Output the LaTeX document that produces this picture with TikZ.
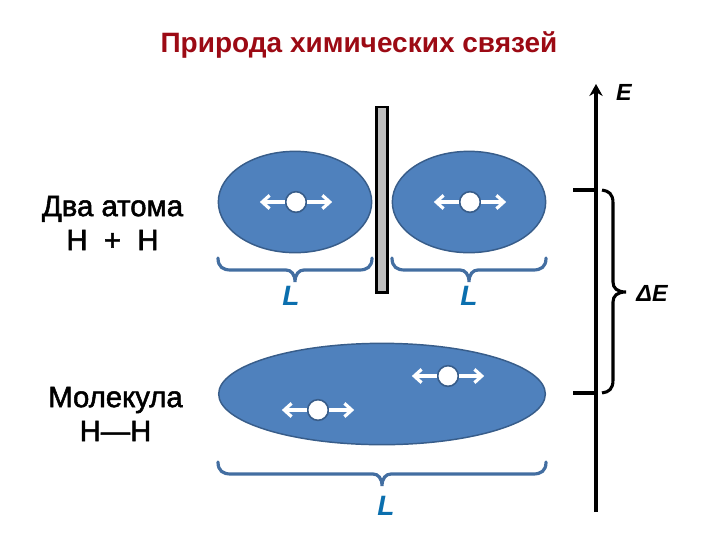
\documentclass[tikz,border=0pt]{standalone}
\usepackage{fontspec}
\setmainfont{Liberation Sans}
\newfontfamily\capfont[FakeBold=1.8]{Liberation Sans}
\usetikzlibrary{shapes.geometric,arrows.meta}
\definecolor{cloudblue}{HTML}{4F81BD}
\definecolor{clouddark}{HTML}{385D8A}
\definecolor{letterblue}{HTML}{0B6FAE}
\definecolor{titlered}{HTML}{9C0A14}
\newcommand{\spanbrace}[3]{% left x, right x, top y
    \draw [bracket] (#1, #3) .. controls (#1, #3 + 9) and (#1 + 5, #3 + 12) .. (#1 + 13, #3 + 12)
        -- ({(#1 + #2) / 2 - 9}, #3 + 12) .. controls ({(#1 + #2) / 2 - 4}, #3 + 12) and ({(#1 + #2) / 2}, #3 + 16) .. ({(#1 + #2) / 2}, #3 + 24)
        .. controls ({(#1 + #2) / 2}, #3 + 16) and ({(#1 + #2) / 2 + 4}, #3 + 12) .. ({(#1 + #2) / 2 + 9}, #3 + 12)
        -- (#2 - 13, #3 + 12) .. controls (#2 - 5, #3 + 12) and (#2, #3 + 9) .. (#2, #3);
}
\tikzset{
    cloudnode/.style = {ellipse, draw = clouddark, line width = 1.1pt, fill = cloudblue, inner sep = 0pt},
    electron/.style = {circle, draw = clouddark, line width = 1.2pt, fill = white, minimum size = 15.5pt, inner sep = 0pt},
    moveline/.style = {white, line width = 2.4pt, -{Straight Barb[length = 5.5pt, width = 10pt, line width = 2.4pt]}},
    bracket/.style = {draw = cloudblue!85!black, line width = 2.4pt, line cap = round},
    energybrace/.style = {draw = black, line width = 2.3pt},
    caption/.style = {font = \fontsize{22pt}{25.5pt}\capfont, align = center, inner sep = 0pt},
    lengthmark/.style = {text = letterblue, font = \fontsize{21pt}{21pt}\selectfont\bfseries\itshape, inner sep = 0pt},
    energymark/.style = {inner sep = 0pt, font = \fontsize{17.5pt}{17.5pt}\selectfont\bfseries\itshape}
}
\begin{document}
\begin{tikzpicture}[x = 0.75pt, y = -0.75pt]
        \useasboundingbox (0, 0) rectangle (720, 540);
        % title and labels
        \node [inner sep = 0pt, font = \fontsize{21pt}{24pt}\selectfont\bfseries, text = titlered] (title) at (359, 45) {Природа химических связей};
        \node [caption] (atoms) at (112.5, 223) {Два атома\\Н\ \ +\ \ Н};
        \node [caption] (molecule) at (115.5, 414) {Молекула\\Н—Н};
        % barrier
        \node [draw, line width = 2pt, fill = lightgray, minimum width = 8pt, minimum height = 139pt, inner sep = 0pt] (wall) at (382, 199.5) {};
        % clouds
        \node [cloudnode, minimum width = 115pt, minimum height = 76pt] (left) at (295, 202) {};
        \node [cloudnode, minimum width = 115pt, minimum height = 76pt] (right) at (469, 202) {};
        \node [cloudnode, minimum width = 245pt, minimum height = 76pt] (mol) at (382, 394) {};
        % electrons
        \node [electron] (eA) at (296, 202) {};
        \node [electron] (eB) at (470, 202) {};
        \node [electron] (eC) at (448, 376) {};
        \node [electron] (eD) at (318, 410) {};
        \foreach \e in {eA, eB, eC, eD} {
            \draw [moveline] (\e.west) -- ++(-25, 0);
            \draw [moveline] (\e.east) -- ++(25, 0);
        }
        % braces
        \spanbrace{218}{372}{258}
        \spanbrace{392}{546}{258}
        \spanbrace{218}{546}{462}
        \node [lengthmark] (la) at (291, 296) {L};
        \node [lengthmark] (lb) at (469, 296) {L};
        \node [lengthmark] (lc) at (386, 506) {L};
        % energy axis
        \coordinate (axisbottom) at (596, 512);
        \coordinate (axistop) at (596, 84);
        \coordinate (upper) at (596, 190);
        \coordinate (lower) at (596, 393);
        \coordinate (upperend) at (573, 190);
        \coordinate (lowerend) at (573, 393);
        \draw [line width = 2.3pt, -{Stealth[length = 9pt, width = 10pt]}] (axisbottom) -- (axistop);
        \draw [line width = 2.3pt] (upperend) -- (upper);
        \draw [line width = 2.3pt] (lowerend) -- (lower);
        \draw [energybrace] (602, 190) .. controls (609, 191) and (613, 194) .. (613, 203)
            -- (613, 282) .. controls (613, 288) and (617, 292) .. (626, 292)
            .. controls (617, 292) and (613, 296) .. (613, 302)
            -- (613, 380) .. controls (613, 389) and (609, 392) .. (602, 393);
        \node [energymark] (energy) at (624, 92) {E};
        \node [energymark] (delta) at (652, 293) {ΔE};
    \end{tikzpicture}
\end{document}
